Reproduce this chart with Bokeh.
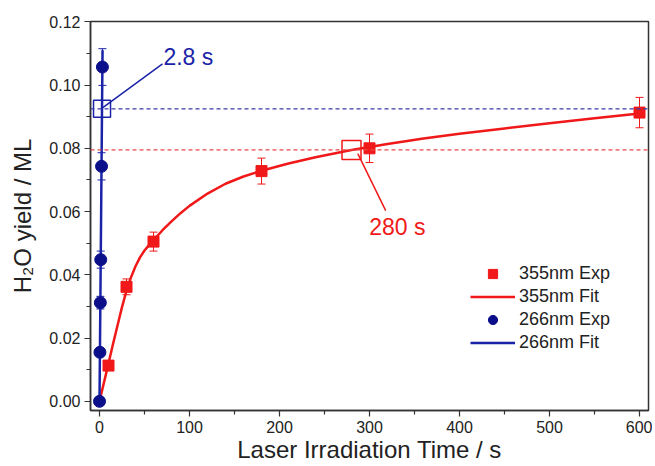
from bokeh.plotting import figure
from bokeh.models import (ColumnDataSource, Whisker, TeeHead, Span, Label, Legend,
                          LegendItem, FixedTicker, PrintfTickFormatter)
from bokeh.embed import file_html
from bokeh.resources import INLINE

# ---------------- data ----------------
t355 = [10, 30, 60, 180, 300, 600]
y355 = [0.0113, 0.0362, 0.0505, 0.0728, 0.0800, 0.0913]
e355 = [0.0008, 0.0025, 0.0030, 0.0041, 0.0045, 0.0048]

fit355_t = [0, 5, 10, 15, 20, 25, 30, 35, 40, 45, 50, 55, 60, 70, 80, 90, 100,
            120, 140, 160, 180, 210, 240, 280, 320, 360, 400, 450, 500, 550, 600]
fit355_y = [0.0, 0.0060, 0.0120, 0.0181, 0.0240, 0.0298, 0.0350, 0.0392, 0.0427,
            0.0455, 0.0477, 0.0494, 0.0510, 0.0541, 0.0569, 0.0595, 0.0618,
            0.0657, 0.0688, 0.0711, 0.0729, 0.0752, 0.0772, 0.0795, 0.0814,
            0.0831, 0.0846, 0.0863, 0.0879, 0.0895, 0.0910]

t266 = [0, 0.47, 0.95, 1.37, 2.27, 3.25]
y266 = [0.0, 0.0155, 0.0312, 0.0448, 0.0743, 0.1057]
e266 = [0.0, 0.0010, 0.0020, 0.0027, 0.0043, 0.0058]

fit266_t = [0, 1.0, 2.0, 2.8, 3.4]
fit266_y = [0.0, 0.0328, 0.0658, 0.0925, 0.1110]

mark_t = [280, 2.8]
mark_y = [0.0795, 0.0925]
mark_text = ["280 s", "2.8 s"]

x_ticks = [0, 100, 200, 300, 400, 500, 600]
x_minor = [50, 150, 250, 350, 450, 550]
y_ticks = [0.0, 0.02, 0.04, 0.06, 0.08, 0.10, 0.12]
y_minor = [0.01, 0.03, 0.05, 0.07, 0.09, 0.11]

RED = "#f01818"
BLUE_M = "#0c0f8a"
BLUE_L = "#1a23a8"
FONT = "Liberation Sans"

p = figure(width=652, height=466, output_backend="svg", toolbar_location=None,
           x_range=(-10, 610), y_range=(-0.0029, 0.1201),
           min_border_left=90, min_border_right=4, min_border_top=21,
           min_border_bottom=56)
p.grid.visible = False
p.outline_line_color = "#333333"
p.outline_line_width = 1.5
p.background_fill_color = "white"
p.border_fill_color = "white"

for ax in (p.xaxis[0], p.yaxis[0]):
    ax.axis_line_color = "#333333"
    ax.axis_line_width = 1.5
    ax.major_tick_line_color = "#333333"
    ax.minor_tick_line_color = "#333333"
    ax.major_tick_line_width = 1.2
    ax.minor_tick_line_width = 1.2
    ax.major_tick_out = 6
    ax.major_tick_in = 0
    ax.minor_tick_out = 4
    ax.minor_tick_in = 0
    ax.major_label_text_font = FONT
    ax.major_label_text_font_size = "16px"
    ax.major_label_text_color = "#222222"
    ax.axis_label_text_font = FONT
    ax.axis_label_text_font_size = "24px"
    ax.axis_label_text_font_style = "normal"
    ax.axis_label_text_color = "#222222"

p.xaxis.ticker = FixedTicker(ticks=x_ticks, minor_ticks=x_minor)
p.yaxis.ticker = FixedTicker(ticks=y_ticks, minor_ticks=y_minor)
p.yaxis.formatter = PrintfTickFormatter(format="%.2f")
p.xaxis.axis_label = "Laser Irradiation Time / s"
p.yaxis.axis_label = "H\u2082O yield / ML"
p.xaxis.major_label_standoff = 4
p.xaxis.axis_label_standoff = 0
p.yaxis.major_label_standoff = 4
p.yaxis.axis_label_standoff = 10

# reference dashed lines
p.add_layout(Span(location=mark_y[1], dimension="width", line_color="#3a3aa6",
                  line_dash="4 3", line_width=1.2))
p.add_layout(Span(location=mark_y[0], dimension="width", line_color="#e84848",
                  line_dash="4 3", line_width=1.2))

# fits
r_fit355 = p.line(fit355_t, fit355_y, line_color=RED, line_width=2.5)
r_fit266 = p.line(fit266_t, fit266_y, line_color=BLUE_L, line_width=2.5)

# error bars
src355 = ColumnDataSource(dict(x=t355, y=y355,
                               lo=[a - b for a, b in zip(y355, e355)],
                               hi=[a + b for a, b in zip(y355, e355)]))
src266 = ColumnDataSource(dict(x=t266, y=y266,
                               lo=[a - b for a, b in zip(y266, e266)],
                               hi=[a + b for a, b in zip(y266, e266)]))
for src, col in ((src355, RED), (src266, BLUE_L)):
    p.add_layout(Whisker(source=src, base="x", upper="hi", lower="lo",
                         line_color=col, line_width=1,
                         upper_head=TeeHead(size=8, line_color=col, line_width=1),
                         lower_head=TeeHead(size=8, line_color=col, line_width=1)))

r_exp355 = p.scatter("x", "y", source=src355, marker="square", size=11,
                     fill_color=RED, line_color=RED)
r_exp266 = p.scatter("x", "y", source=src266, marker="circle", size=12,
                     fill_color=BLUE_M, line_color=BLUE_M)

# markers of the characteristic times
p.scatter([mark_t[0]], [mark_y[0]], marker="square", size=19, fill_color=None,
          line_color=RED, line_width=1.5)
p.scatter([mark_t[1]], [mark_y[1]], marker="square", size=17, fill_color=None,
          line_color=BLUE_L, line_width=1.5)

# annotation pointers
p.segment(x0=[287], y0=[0.0783], x1=[318], y1=[0.0603], line_color=RED, line_width=1.5)
p.segment(x0=[3.3], y0=[0.0928], x1=[70], y1=[0.1067], line_color=BLUE_L, line_width=1.5)

p.add_layout(Label(x=331, y=0.0550, text=mark_text[0], text_align="center",
                   text_baseline="middle", text_font=FONT, text_font_size="23px",
                   text_color=RED))
p.add_layout(Label(x=71, y=0.109, text=mark_text[1], text_align="left",
                   text_baseline="middle", text_font=FONT, text_font_size="23px",
                   text_color=BLUE_L))

legend = Legend(items=[
    LegendItem(label="355nm Exp", renderers=[r_exp355]),
    LegendItem(label="355nm Fit", renderers=[r_fit355]),
    LegendItem(label="266nm Exp", renderers=[r_exp266]),
    LegendItem(label="266nm Fit", renderers=[r_fit266]),
], location=(380, 56), border_line_color=None, background_fill_alpha=0,
    padding=0, margin=0, spacing=0, glyph_width=45, glyph_height=23,
    label_height=23, label_standoff=4, label_text_font=FONT,
    label_text_font_size="18px", label_text_color="#222222")
p.add_layout(legend, "center")

open("out.html", "w").write(file_html(p, INLINE))
